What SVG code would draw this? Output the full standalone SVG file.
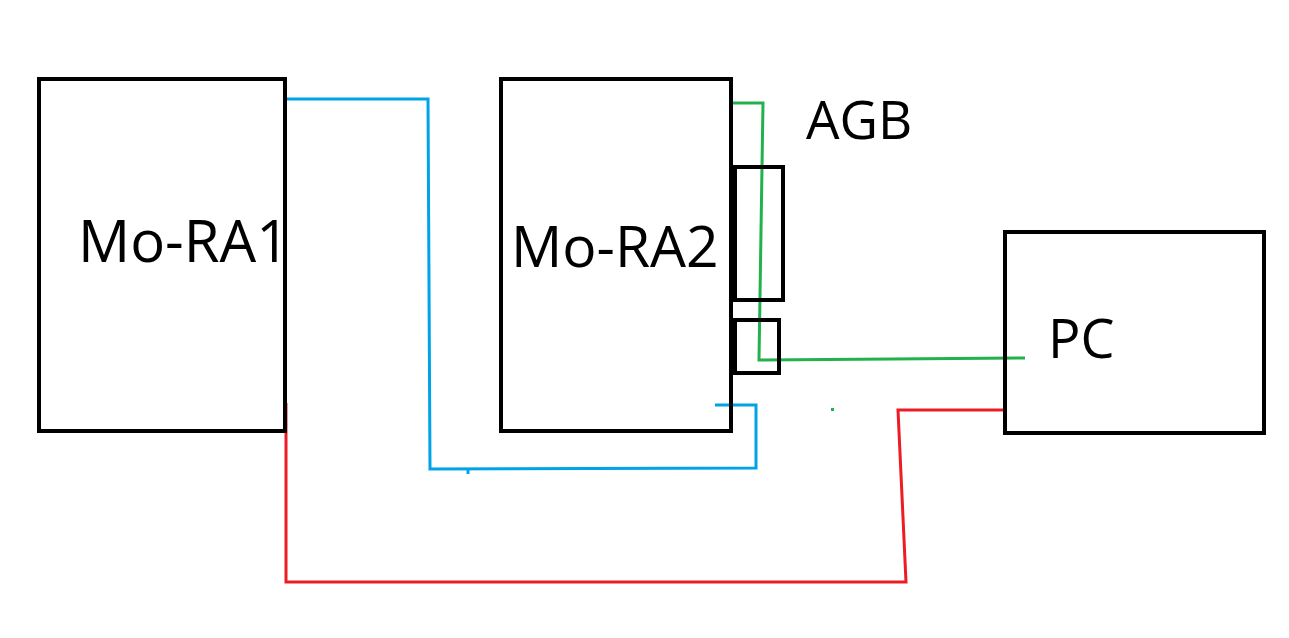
<svg xmlns="http://www.w3.org/2000/svg" width="1289" height="638" viewBox="0 0 1289 638">
<style>
.box{fill:none;stroke:#000;stroke-width:4}
.lbl{font-family:"Open Sans","Noto Sans","Liberation Sans",sans-serif;fill:#000}
.w{fill:none;stroke-width:3;stroke-linejoin:miter;stroke-linecap:butt}
.blue{stroke:#00a2e8}
.green{stroke:#22b14c}
.red{stroke:#ed1c24}
</style>
<rect width="1289" height="638" fill="#fff"/>
<g id="connectors">
<polyline class="w blue" points="285,99 428,99 430,469 756,468 756,405 715,405"/>
<line class="w blue" x1="468" y1="468" x2="468" y2="474"/>
<polyline class="w green" points="731,103 763,103 759,360 892,359 1025,358"/>
<rect x="831" y="408" width="3" height="3" fill="#22b14c"/>
<polyline class="w red" points="286,403 286,582 906,582 898,410 1004,410"/>
</g>
<g id="mo-ra1">
<rect class="box" x="39" y="79" width="246" height="352"/>
<text class="lbl" x="78" y="262" font-size="58">Mo-RA1</text>
</g>
<g id="mo-ra2">
<rect class="box" x="501" y="79" width="230" height="352"/>
<text class="lbl" x="511" y="267" font-size="57">Mo-RA2</text>
</g>
<g id="agb">
<rect class="box" x="735" y="167" width="48" height="133"/>
<rect class="box" x="735" y="320" width="44" height="53"/>
<text class="lbl" x="806" y="139" font-size="53">AGB</text>
</g>
<g id="pc">
<rect class="box" x="1005" y="232" width="259" height="201"/>
<text class="lbl" x="1048" y="358" font-size="54">PC</text>
</g>
</svg>
